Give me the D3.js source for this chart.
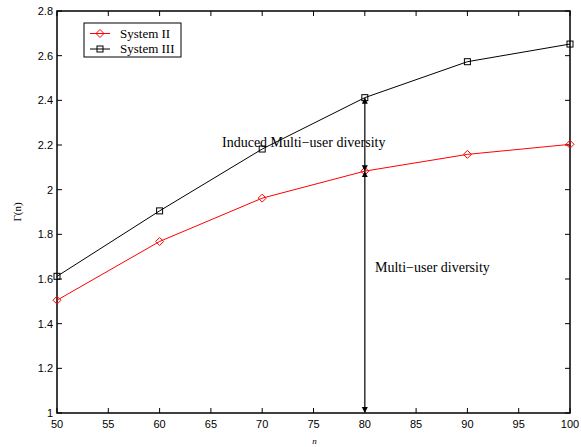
<!DOCTYPE html>
<html>
<head>
<meta charset="utf-8">
<script src="https://cdn.jsdelivr.net/npm/d3@7"></script>
<style>
  body { margin: 0; background: #fff; }
  svg text { font-family: "Liberation Sans", Arial, sans-serif; }
</style>
</head>
<body>
<div id="chart"></div>
<script>
// chart data
var nValues = [50, 60, 70, 80, 90, 100];
var system2 = [1.505, 1.768, 1.962, 2.083, 2.158, 2.203];
var system3 = [1.612, 1.905, 2.182, 2.412, 2.573, 2.652];
var xTicks = [50, 55, 60, 65, 70, 75, 80, 85, 90, 95, 100];
var yTicks = [1, 1.2, 1.4, 1.6, 1.8, 2, 2.2, 2.4, 2.6, 2.8];
var seriesNames = ["System II", "System III"];
var arrowAt = 80;

var width = 581,
    height = 447,
    margin = {top: 11, right: 11, bottom: 34, left: 57};

var svg = d3.select("#chart").append("svg")
    .attr("width", width)
    .attr("height", height);

var x = d3.scaleLinear().domain([50, 100]).range([margin.left, width - margin.right]);
var y = d3.scaleLinear().domain([1, 2.8]).range([height - margin.bottom, margin.top]);

// frame
svg.append("rect")
    .attr("x", x(50)).attr("y", y(2.8))
    .attr("width", x(100) - x(50)).attr("height", y(1) - y(2.8))
    .style("fill", "none").style("stroke", "#000").style("stroke-width", 1.5);

// ticks (inside, on all four sides)
var tk = 5;
xTicks.forEach(function(t) {
    svg.append("line").attr("x1", x(t)).attr("x2", x(t)).attr("y1", y(1)).attr("y2", y(1) - tk)
        .style("stroke", "#000");
    svg.append("line").attr("x1", x(t)).attr("x2", x(t)).attr("y1", y(2.8)).attr("y2", y(2.8) + tk)
        .style("stroke", "#000");
    svg.append("text").attr("x", x(t)).attr("y", y(1) + 15)
        .attr("text-anchor", "middle").style("font-size", "11px").text(t);
});
yTicks.forEach(function(t) {
    svg.append("line").attr("x1", x(50)).attr("x2", x(50) + tk).attr("y1", y(t)).attr("y2", y(t))
        .style("stroke", "#000");
    svg.append("line").attr("x1", x(100)).attr("x2", x(100) - tk).attr("y1", y(t)).attr("y2", y(t))
        .style("stroke", "#000");
    svg.append("text").attr("x", x(50) - 4).attr("y", y(t) + 4)
        .attr("text-anchor", "end").style("font-size", "11px").text(d3.format("")(t));
});

// axis labels
svg.append("text").attr("x", x(75) + 1).attr("y", height - 3)
    .attr("text-anchor", "middle")
    .style("font-family", "Liberation Serif").style("font-style", "italic").style("font-size", "9px")
    .text("n");
svg.append("text")
    .attr("transform", "translate(21," + (y(1.9)) + ") rotate(-90)")
    .attr("text-anchor", "middle")
    .style("font-family", "Liberation Serif").style("font-size", "11px")
    .text("Γ(n)");

var line = d3.line()
    .x(function(d, i) { return x(nValues[i]); })
    .y(function(d) { return y(d); });

// System III (black, squares)
svg.append("path").datum(system3).attr("d", line)
    .style("fill", "none").style("stroke", "#000").style("stroke-width", 1);
svg.selectAll(".sq").data(system3).enter().append("rect")
    .attr("x", function(d, i) { return x(nValues[i]) - 3; })
    .attr("y", function(d) { return y(d) - 3; })
    .attr("width", 6).attr("height", 6)
    .style("fill", "none").style("stroke", "#000");

// System II (red, diamonds)
var diamond = "M0,-4L4,0L0,4L-4,0Z";
svg.append("path").datum(system2).attr("d", line)
    .style("fill", "none").style("stroke", "#ff0000").style("stroke-width", 1);
svg.selectAll(".dm").data(system2).enter().append("path")
    .attr("d", diamond)
    .attr("transform", function(d, i) { return "translate(" + x(nValues[i]) + "," + y(d) + ")"; })
    .style("fill", "none").style("stroke", "#ff0000");

// double-headed arrows
svg.append("defs").append("marker")
    .attr("id", "head").attr("viewBox", "0 0 10 10")
    .attr("refX", 10).attr("refY", 5)
    .attr("markerWidth", 6).attr("markerHeight", 7)
    .attr("markerUnits", "userSpaceOnUse")
    .attr("orient", "auto-start-reverse")
    .append("path").attr("d", "M0,0L10,5L0,10Z").style("fill", "#000");

var ai = nValues.indexOf(arrowAt);
function arrow(v1, v2) {
    svg.append("line")
        .attr("x1", x(arrowAt)).attr("x2", x(arrowAt))
        .attr("y1", y(v1)).attr("y2", y(v2))
        .style("stroke", "#333").style("stroke-width", 1.5)
        .attr("marker-start", "url(#head)").attr("marker-end", "url(#head)");
}
arrow(system3[ai], system2[ai]);
arrow(system2[ai], 1);

svg.append("text").attr("x", 222).attr("y", 147)
    .style("font-family", "Liberation Serif").style("font-size", "14px")
    .text("Induced Multi\u2212user diversity");
svg.append("text").attr("x", 375).attr("y", 272)
    .style("font-family", "Liberation Serif").style("font-size", "14px")
    .text("Multi\u2212user diversity");

// legend
var lg = svg.append("g").attr("transform", "translate(84,23)");
lg.append("rect").attr("width", 97).attr("height", 34)
    .style("fill", "#fff").style("stroke", "#000");
[{c: "#ff0000", m: "d"}, {c: "#000", m: "s"}].forEach(function(s, i) {
    var yy = 10.5 + i * 15.5;
    lg.append("line").attr("x1", 6).attr("x2", 26).attr("y1", yy).attr("y2", yy).style("stroke", s.c);
    if (s.m === "d") {
        lg.append("path").attr("d", diamond).attr("transform", "translate(16," + yy + ")")
            .style("fill", "none").style("stroke", s.c);
    } else {
        lg.append("rect").attr("x", 13).attr("y", yy - 3).attr("width", 6).attr("height", 6)
            .style("fill", "none").style("stroke", s.c);
    }
    lg.append("text").attr("x", 36).attr("y", yy + 4)
        .style("font-family", "Liberation Serif").style("font-size", "13px")
        .text(seriesNames[i]);
});
</script>
</body>
</html>
